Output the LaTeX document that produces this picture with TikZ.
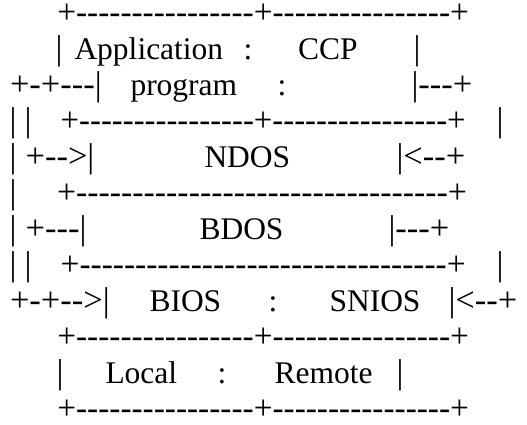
\documentclass[tikz,border=0pt]{standalone}
\usepackage{graphicx}
\usepackage{fontspec}
\setmainfont{Liberation Serif}
% runs of hyphens kept apart so that no en/em dash ligature forms
\newcount\dcnt
\newcommand\dashrun[1]{\dcnt=#1\relax\loop\ifnum\dcnt>0 -\kern0pt\advance\dcnt by -1\relax\repeat}
% a ruled row of + and - stretched to a given width
\newcommand\rulerow[2]{\resizebox{#1}{\height}{#2}}
\tikzset{
  glyphs/.style={anchor=base west, inner sep=0pt, outer sep=0pt},
  asym/.style={glyphs, font=\fontsize{34.5pt}{36pt}\selectfont},
  atxt/.style={glyphs, font=\fontsize{31.5pt}{36pt}\selectfont}
}
\begin{document}
\begin{tikzpicture}[x=1pt,y=-1pt]
\useasboundingbox (0,0) rectangle (527,424);
% top box: Application program : CCP
\node[asym] (r1)  at (57.3,23.6) {\rulerow{411.7pt}{+\dashrun{16}+\dashrun{16}+}};
\node[asym] (r2a) at (55.6,59.6) {|};
\node[atxt] (r2b) at (74.5,59.6) {Application};
\node[atxt] (r2c) at (243.6,59.6) {:};
\node[atxt] (r2d) at (298,59.6) {CCP};
\node[asym] (r2e) at (413.6,59.6) {|};
\node[asym] (r3a) at (10,95.6) {+\dashrun{1}+\dashrun{3}|};
\node[atxt] (r3b) at (130.5,95.6) {program};
\node[atxt] (r3c) at (277.6,95.6) {:};
\node[asym] (r3d) at (411.5,95.6) {|\dashrun{3}+};
\node[asym] (r4a) at (9.6,131.6) {|};
\node[asym] (r4b) at (24.6,131.6) {|};
\node[asym] (r4c) at (60.7,131.6) {\rulerow{405pt}{+\dashrun{16}+\dashrun{16}+}};
\node[asym] (r4d) at (496.6,131.6) {|};
% NDOS
\node[asym] (r5a) at (9.6,167.6) {|};
\node[asym] (r5b) at (25.6,167.6) {+\dashrun{2}>|};
\node[atxt] (r5c) at (204.5,167.6) {NDOS};
\node[asym] (r5d) at (396.5,167.6) {|<\dashrun{2}+};
\node[asym] (r6a) at (9.6,203.6) {|};
\node[asym] (r6b) at (57,203.6) {\rulerow{410pt}{+\dashrun{33}+}};
% BDOS
\node[asym] (r7a) at (9.6,239.6) {|};
\node[asym] (r7b) at (25.6,239.6) {+\dashrun{3}|};
\node[atxt] (r7c) at (199.5,239.6) {BDOS};
\node[asym] (r7d) at (388.5,239.6) {|\dashrun{3}+};
\node[asym] (r8a) at (9.6,275.6) {|};
\node[asym] (r8b) at (24.6,275.6) {|};
\node[asym] (r8c) at (60.7,275.6) {\rulerow{405pt}{+\dashrun{33}+}};
\node[asym] (r8d) at (496.6,275.6) {|};
% BIOS : SNIOS
\node[asym] (r9a) at (10,311.6) {+\dashrun{1}+\dashrun{2}>|};
\node[atxt] (r9b) at (149.5,311.6) {BIOS};
\node[atxt] (r9c) at (268.6,311.6) {:};
\node[atxt] (r9d) at (329.5,311.6) {SNIOS};
\node[asym] (r9e) at (448.5,311.6) {|<\dashrun{2}+};
% bottom box: Local : Remote
\node[asym] (r10)  at (57.3,347.6) {\rulerow{411.7pt}{+\dashrun{16}+\dashrun{16}+}};
\node[asym] (r11a) at (56.6,383.6) {|};
\node[atxt] (r11b) at (105.5,383.6) {Local};
\node[atxt] (r11c) at (217.6,383.6) {:};
\node[atxt] (r11d) at (274.5,383.6) {Remote};
\node[asym] (r11e) at (396.6,383.6) {|};
\node[asym] (r12)  at (57.3,419.6) {\rulerow{411.7pt}{+\dashrun{16}+\dashrun{16}+}};
\end{tikzpicture}
\end{document}
